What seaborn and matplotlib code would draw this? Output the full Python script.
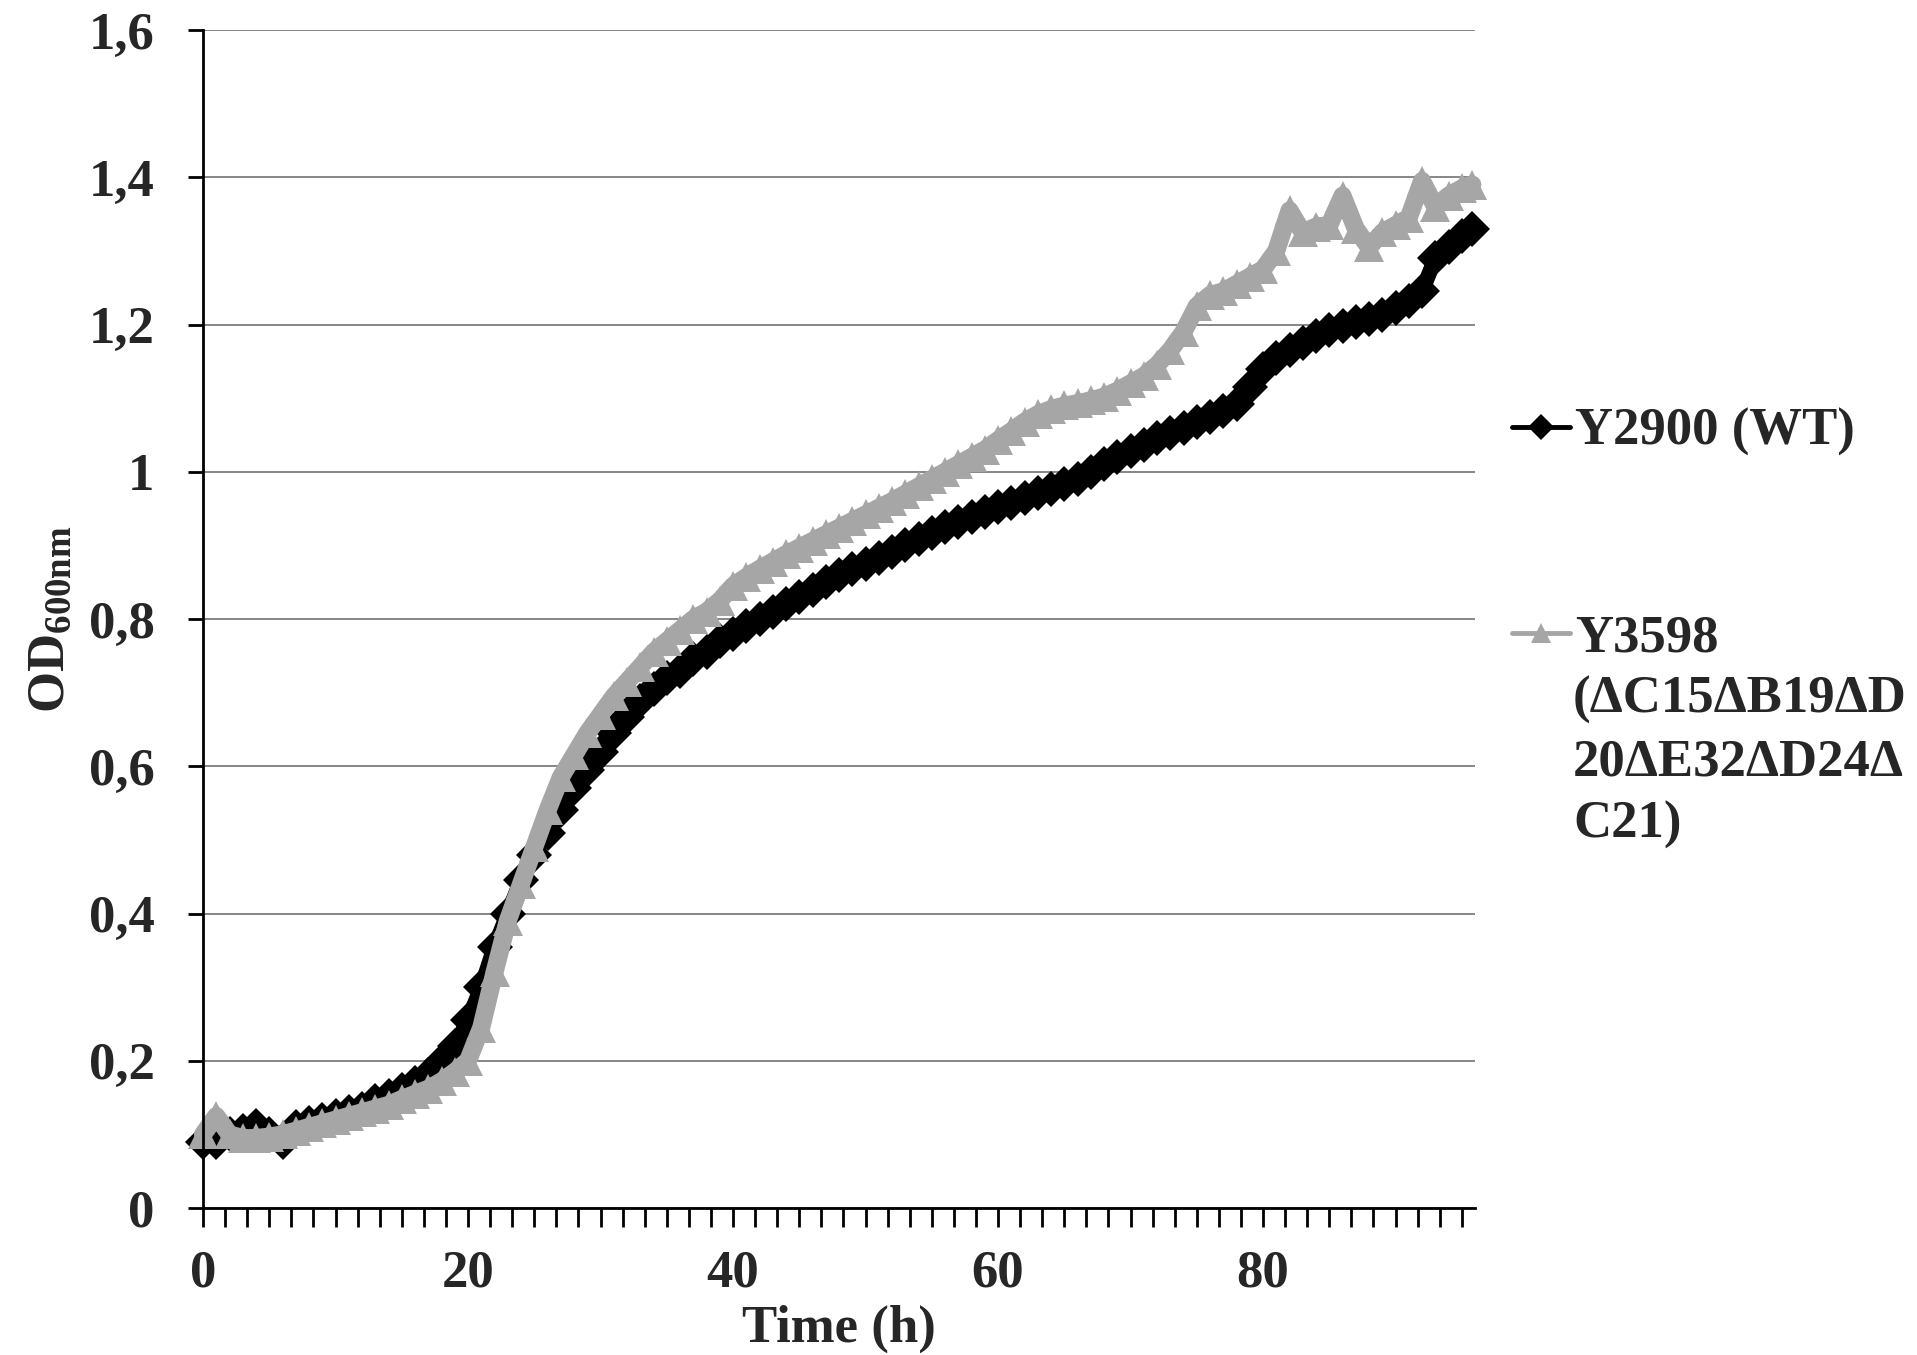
import numpy as np
import pandas as pd
import matplotlib
matplotlib.use("Agg")
import matplotlib.pyplot as plt
from matplotlib.lines import Line2D
from matplotlib.ticker import FixedLocator, FixedFormatter
import seaborn as sns

# ---------------- data ----------------
time_h = list(range(96)) + [95.8]

od_wt = [0.09, 0.09, 0.10, 0.105, 0.112, 0.10, 0.09, 0.11, 0.115, 0.12,
         0.125, 0.13, 0.135, 0.145, 0.152, 0.16, 0.17, 0.18, 0.20, 0.22,
         0.255, 0.30, 0.355, 0.40, 0.445, 0.48, 0.51, 0.54, 0.57, 0.595,
         0.62, 0.645, 0.667, 0.688, 0.705, 0.72, 0.73, 0.745, 0.755, 0.77,
         0.78, 0.79, 0.80, 0.81, 0.82, 0.83, 0.84, 0.85, 0.86, 0.868,
         0.875, 0.883, 0.891, 0.90, 0.908, 0.917, 0.925, 0.932, 0.939, 0.945,
         0.952, 0.958, 0.965, 0.971, 0.977, 0.983, 0.99, 1.0, 1.011, 1.02,
         1.028, 1.037, 1.046, 1.053, 1.06, 1.067, 1.075, 1.083, 1.092, 1.115,
         1.14, 1.155, 1.165, 1.175, 1.185, 1.193, 1.198, 1.203, 1.207, 1.213,
         1.222, 1.232, 1.245, 1.29, 1.305, 1.32, 1.33]

od_mut = [0.10, 0.125, 0.10, 0.095, 0.095, 0.097, 0.10, 0.105, 0.11, 0.115,
          0.12, 0.125, 0.13, 0.135, 0.14, 0.148, 0.155, 0.162, 0.172, 0.185,
          0.20, 0.245, 0.32, 0.39, 0.44, 0.49, 0.54, 0.585, 0.615, 0.645,
          0.67, 0.695, 0.715, 0.735, 0.755, 0.77, 0.785, 0.80, 0.81, 0.825,
          0.845, 0.857, 0.868, 0.878, 0.888, 0.897, 0.906, 0.915, 0.924, 0.933,
          0.942, 0.951, 0.96, 0.97, 0.98, 0.99, 1.0, 1.01, 1.02, 1.03,
          1.043, 1.055, 1.068, 1.078, 1.085, 1.09, 1.093, 1.097, 1.102, 1.11,
          1.12, 1.13, 1.145, 1.165, 1.19, 1.225, 1.24, 1.245, 1.255, 1.265,
          1.275, 1.30, 1.355, 1.325, 1.333, 1.335, 1.375, 1.33, 1.305, 1.325,
          1.335, 1.345, 1.395, 1.36, 1.375, 1.385, 1.39]

label_wt = "Y2900 (WT)"
label_mut_first = "Y3598"
label_mut_rest = "(\u0394C15\u0394B19\u0394D\n20\u0394E32\u0394D24\u0394\nC21)"

y_ticks = [0, 0.2, 0.4, 0.6, 0.8, 1.0, 1.2, 1.4, 1.6]
y_tick_labels = ["0", "0,2", "0,4", "0,6", "0,8", "1", "1,2", "1,4", "1,6"]
x_label_values = [0, 20, 40, 60, 80]
x_title = "Time (h)"
y_title = r"$\mathbf{OD_{600nm}}$"

color_wt = "#000000"
color_mut = "#A6A6A6"

# ---------------- style ----------------
sns.set_theme(style="white")
plt.rcParams["font.family"] = ["Liberation Serif", "DejaVu Serif"]
plt.rcParams["font.weight"] = "bold"
plt.rcParams["mathtext.fontset"] = "custom"
plt.rcParams["mathtext.bf"] = "Liberation Serif:bold"
plt.rcParams["mathtext.rm"] = "Liberation Serif:bold"
plt.rcParams["mathtext.it"] = "Liberation Serif:bold"

FS = 38
fig = plt.figure(figsize=(19.17, 13.55), dpi=100)
ax = fig.add_axes([203 / 1917, 1 - 1208 / 1355, (1475 - 203) / 1917, (1208 - 30) / 1355])

df_wt = pd.DataFrame({"t": time_h, "od": od_wt})
df_mut = pd.DataFrame({"t": time_h, "od": od_mut})

sns.lineplot(data=df_wt, x="t", y="od", ax=ax, color=color_wt, linewidth=11,
             marker="D", markersize=18, markeredgewidth=0, legend=False,
             errorbar=None, sort=True, clip_on=False, solid_joinstyle="round",
             solid_capstyle="round")
sns.lineplot(data=df_mut, x="t", y="od", ax=ax, color=color_mut, linewidth=13,
             marker="^", markersize=22, markeredgewidth=0, legend=False,
             errorbar=None, sort=True, clip_on=False, solid_joinstyle="round",
             solid_capstyle="round")

ax.set_xlim(0, 96)
ax.set_ylim(0, 1.6)

# y axis
ax.yaxis.set_major_locator(FixedLocator(y_ticks))
ax.yaxis.set_major_formatter(FixedFormatter(y_tick_labels))
ax.grid(axis="y", color="#868686", linewidth=1.4)
ax.grid(axis="x", visible=False)
ax.set_axisbelow(True)

# x axis: tick every 10 samples (1/6 h each), labels every 20 h
x_tick_pos = [i * 5 / 3 for i in range(58)]
x_tick_lab = [str(int(round(p))) if any(abs(p - v) < 1e-6 for v in x_label_values) else ""
              for p in x_tick_pos]
ax.xaxis.set_major_locator(FixedLocator(x_tick_pos))
ax.xaxis.set_major_formatter(FixedFormatter(x_tick_lab))

for s in ["top", "right"]:
    ax.spines[s].set_visible(False)
for s in ["left", "bottom"]:
    ax.spines[s].set_color("black")
    ax.spines[s].set_linewidth(2.0)

ax.tick_params(axis="y", direction="out", length=11, width=2, color="black",
               labelsize=FS, pad=24, left=True)
ax.tick_params(axis="x", direction="out", length=14, width=2, color="black",
               labelsize=FS, pad=16, bottom=True)
for lab in ax.get_xticklabels() + ax.get_yticklabels():
    lab.set_fontweight("bold")

ax.set_xlabel(x_title, fontsize=FS, fontweight="bold", labelpad=5)
ax.set_ylabel(y_title, fontsize=FS, labelpad=10)

# legend
handles = [Line2D([], [], color=color_wt, linewidth=3.5, marker="D", markersize=13, markeredgewidth=0),
           Line2D([], [], color=color_mut, linewidth=3.5, marker="^", markersize=15, markeredgewidth=0)]
leg = fig.legend(handles, [label_wt, label_mut_first], loc="upper left",
                 bbox_to_anchor=(1512 / 1917, 1 - 408 / 1355),
                 frameon=False, borderpad=0, borderaxespad=0,
                 handlelength=1.1, handletextpad=0.1, labelspacing=3.0,
                 prop={"family": "Liberation Serif", "weight": "bold", "size": FS})
fig.text(1573 / 1917, 1 - 676 / 1355, label_mut_rest, fontsize=FS, fontweight="bold",
         ha="left", va="top", linespacing=1.38)

fig.savefig("out.png", dpi=100)
